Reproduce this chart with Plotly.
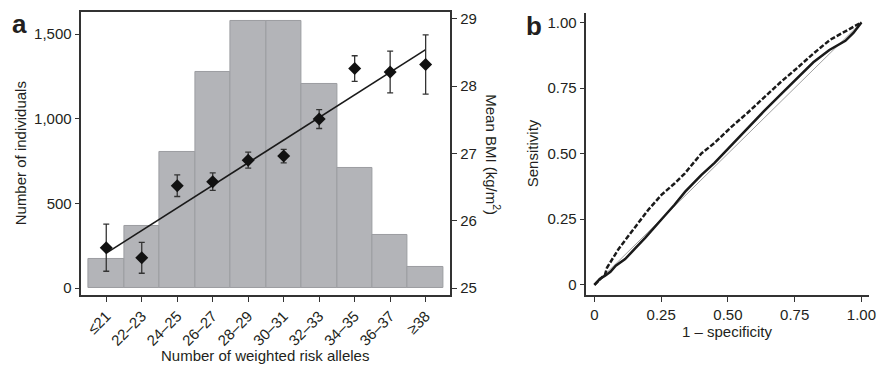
import plotly.graph_objects as go

# page body has an 8px margin: size the figure so it fills the 896x369 window exactly
OFF = 8
W, H = 896 - OFF, 369 - OFF

# ---- data: panel a ----
categories = ["≤21", "22–23", "24–25", "26–27", "28–29", "30–31", "32–33", "34–35", "36–37", "≥38"]
n_individuals = [171, 365, 803, 1276, 1578, 1578, 1206, 712, 313, 126]
mean_bmi = [25.60, 25.45, 26.52, 26.58, 26.90, 26.96, 27.51, 28.26, 28.21, 28.32]
bmi_err = [0.35, 0.23, 0.16, 0.13, 0.12, 0.10, 0.14, 0.19, 0.31, 0.44]
fit_cats = ["≤21", "≥38"]
fit_bmi = [25.52, 28.54]
left_ticks = [0, 500, 1000, 1500]
right_ticks = [25, 26, 27, 28, 29]

# ---- data: panel b ----
fpr_solid = [0, 0.02, 0.04, 0.06, 0.08, 0.10, 0.115, 0.15, 0.19, 0.25, 0.30, 0.34, 0.40,
             0.45, 0.51, 0.57, 0.635, 0.70, 0.76, 0.82, 0.88, 0.94, 0.97, 1.0]
tpr_solid = [0, 0.022, 0.035, 0.05, 0.073, 0.088, 0.098, 0.136, 0.179, 0.248, 0.305, 0.355,
             0.418, 0.465, 0.53, 0.595, 0.662, 0.728, 0.788, 0.848, 0.895, 0.93, 0.96, 1.0]
fpr_dashed = [0, 0.02, 0.04, 0.047, 0.06, 0.09, 0.127, 0.165, 0.202, 0.251, 0.301, 0.338,
              0.40, 0.449, 0.511, 0.573, 0.635, 0.697, 0.759, 0.821, 0.883, 0.944, 1.0]
tpr_dashed = [0, 0.02, 0.04, 0.065, 0.085, 0.136, 0.186, 0.236, 0.286, 0.343, 0.387, 0.424,
              0.50, 0.54, 0.60, 0.655, 0.715, 0.772, 0.826, 0.882, 0.934, 0.968, 1.0]
diag = [0, 1]
b_ticks = [0, 0.25, 0.5, 0.75, 1.0]
b_ticktext = ["0", "0.25", "0.50", "0.75", "1.00"]

FONT = "Liberation Sans, Arial, sans-serif"
TXT = "#231f20"
AX = "#333333"


def px(x):
    return (x - OFF) / W


def py(y):
    return 1 - (y - OFF) / H


fig = go.Figure()

fig.add_trace(go.Bar(
    x=categories, y=n_individuals, xaxis="x", yaxis="y",
    marker=dict(color="#b3b4b8", line=dict(color="#9c9da1", width=1)),
    showlegend=False))

fig.add_trace(go.Scatter(
    x=fit_cats, y=fit_bmi, xaxis="x", yaxis="y2", mode="lines",
    line=dict(color="#1a1a1a", width=1.6), showlegend=False))

fig.add_trace(go.Scatter(
    x=categories, y=mean_bmi, xaxis="x", yaxis="y2", mode="markers",
    marker=dict(symbol="diamond", size=10, color="#111111"),
    error_y=dict(type="data", array=bmi_err, color="#333333", thickness=1.3, width=3),
    showlegend=False))

fig.add_trace(go.Scatter(
    x=diag, y=diag, xaxis="x2", yaxis="y3", mode="lines",
    line=dict(color="#a0a0a0", width=1), showlegend=False))
fig.add_trace(go.Scatter(
    x=fpr_solid, y=tpr_solid, xaxis="x2", yaxis="y3", mode="lines",
    line=dict(color="#1a1a1a", width=2.5), showlegend=False))
fig.add_trace(go.Scatter(
    x=fpr_dashed, y=tpr_dashed, xaxis="x2", yaxis="y3", mode="lines",
    line=dict(color="#1a1a1a", width=2.5, dash="5px,2px"), showlegend=False))

axis_common = dict(showline=True, linecolor=AX, linewidth=1.5, ticks="outside",
                   ticklen=5, tickwidth=1.2, tickcolor=AX, showgrid=False, zeroline=False,
                   tickfont=dict(family=FONT, size=15, color=TXT))

fig.update_layout(
    width=W, height=H, margin=dict(l=0, r=0, t=0, b=0),
    paper_bgcolor="white", plot_bgcolor="white", bargap=0,
    font=dict(family=FONT, color=TXT),
    xaxis=dict(domain=[px(82), px(454)], anchor="y", range=[-0.70, 9.70],
               mirror=True, tickangle=-45, type="category", **axis_common),
    yaxis=dict(domain=[py(296), py(10)], anchor="x", range=[-39, 1630],
               tickvals=left_ticks, tickformat=",", **axis_common),
    yaxis2=dict(domain=[py(296), py(10)], anchor="x", overlaying="y", side="right",
                range=[24.90, 29.10], tickvals=right_ticks, **axis_common),
    xaxis2=dict(domain=[px(591), px(876)], anchor="y3", range=[-0.030, 1.029],
                tickvals=b_ticks, ticktext=b_ticktext, **axis_common),
    yaxis3=dict(domain=[py(296), py(11)], anchor="x2", range=[-0.038, 1.036],
                tickvals=b_ticks, ticktext=b_ticktext, **axis_common),
)

ann = [
    dict(text="<b>a</b>", x=px(20), y=py(22), size=26),
    dict(text="<b>b</b>", x=px(538), y=py(24), size=26),
    dict(text="Number of individuals", x=px(20), y=py(153), size=15, angle=-90),
    dict(text="Mean BMI (kg/m<sup>2</sup>)", x=px(497), y=py(154), size=15, angle=90),
    dict(text="Number of weighted risk alleles", x=px(267), y=py(357), size=15),
    dict(text="Sensitivity", x=px(537), y=py(153), size=15, angle=-90),
    dict(text="1 – specificity", x=px(733), y=py(333), size=15),
]
for a in ann:
    fig.add_annotation(text=a["text"], x=a["x"], y=a["y"], xref="paper", yref="paper",
                       xanchor="center", yanchor="middle", showarrow=False,
                       textangle=a.get("angle", 0),
                       font=dict(family=FONT, size=a["size"], color=TXT))

fig.write_html("out.html")
